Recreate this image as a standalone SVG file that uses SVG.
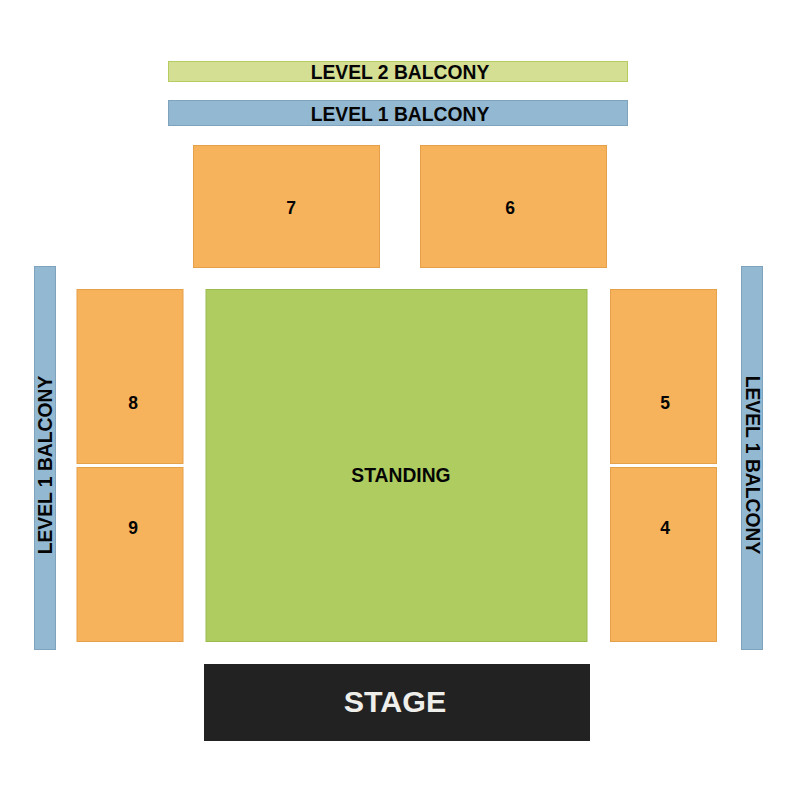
<svg xmlns="http://www.w3.org/2000/svg" width="800" height="800" viewBox="0 0 800 800">
<style>
text{font-family:"Liberation Sans",Arial,sans-serif;font-weight:bold;fill:#050505;text-anchor:middle;dominant-baseline:central}
.sec{fill:#f6b35b;stroke:#e5a04a;stroke-width:1}
.bal1{fill:#92b8d2;stroke:#7fa3bd;stroke-width:1}
.bal2{fill:#d4df93;stroke:#b5cd60;stroke-width:1}
.stand{fill:#aecc60;stroke:#9bbb4f;stroke-width:1}
.lbl{font-size:19.3px}
.num{font-size:17.5px}
</style>
<rect width="800" height="800" fill="#fff"/>
<g id="level2-balcony"><rect class="bal2" x="168.5" y="61.5" width="459" height="20"/><text class="lbl" x="400" y="72">LEVEL 2 BALCONY</text></g>
<g id="level1-balcony-top"><rect class="bal1" x="168.5" y="100.5" width="459" height="25"/><text class="lbl" x="400" y="114">LEVEL 1 BALCONY</text></g>
<g id="section-7"><rect class="sec" x="193.5" y="145.5" width="186" height="122"/><text class="num" x="291" y="208">7</text></g>
<g id="section-6"><rect class="sec" x="420.5" y="145.5" width="186" height="122"/><text class="num" x="510" y="208">6</text></g>
<g id="level1-balcony-left"><rect class="bal1" x="34.5" y="266.5" width="21" height="383"/><text class="lbl" transform="translate(45,465) rotate(-90)">LEVEL 1 BALCONY</text></g>
<g id="level1-balcony-right"><rect class="bal1" x="741.5" y="266.5" width="21" height="383"/><text class="lbl" transform="translate(752,465) rotate(90)">LEVEL 1 BALCONY</text></g>
<g id="section-8"><rect class="sec" x="77" y="289.5" width="106" height="174"/><text class="num" x="133" y="403">8</text></g>
<g id="section-9"><rect class="sec" x="77" y="467.5" width="106" height="174"/><text class="num" x="133" y="528">9</text></g>
<g id="standing"><rect class="stand" x="206" y="289.5" width="381" height="352"/><text class="lbl" x="401" y="475">STANDING</text></g>
<g id="section-5"><rect class="sec" x="610.5" y="289.5" width="106" height="174"/><text class="num" x="665" y="403">5</text></g>
<g id="section-4"><rect class="sec" x="610.5" y="467.5" width="106" height="174"/><text class="num" x="665" y="528">4</text></g>
<g id="stage"><rect x="204" y="664" width="386" height="77" fill="#222"/><text x="395" y="701" style="font-size:30.4px;fill:#eeeeea">STAGE</text></g>
<g id="connectors"/>
</svg>
